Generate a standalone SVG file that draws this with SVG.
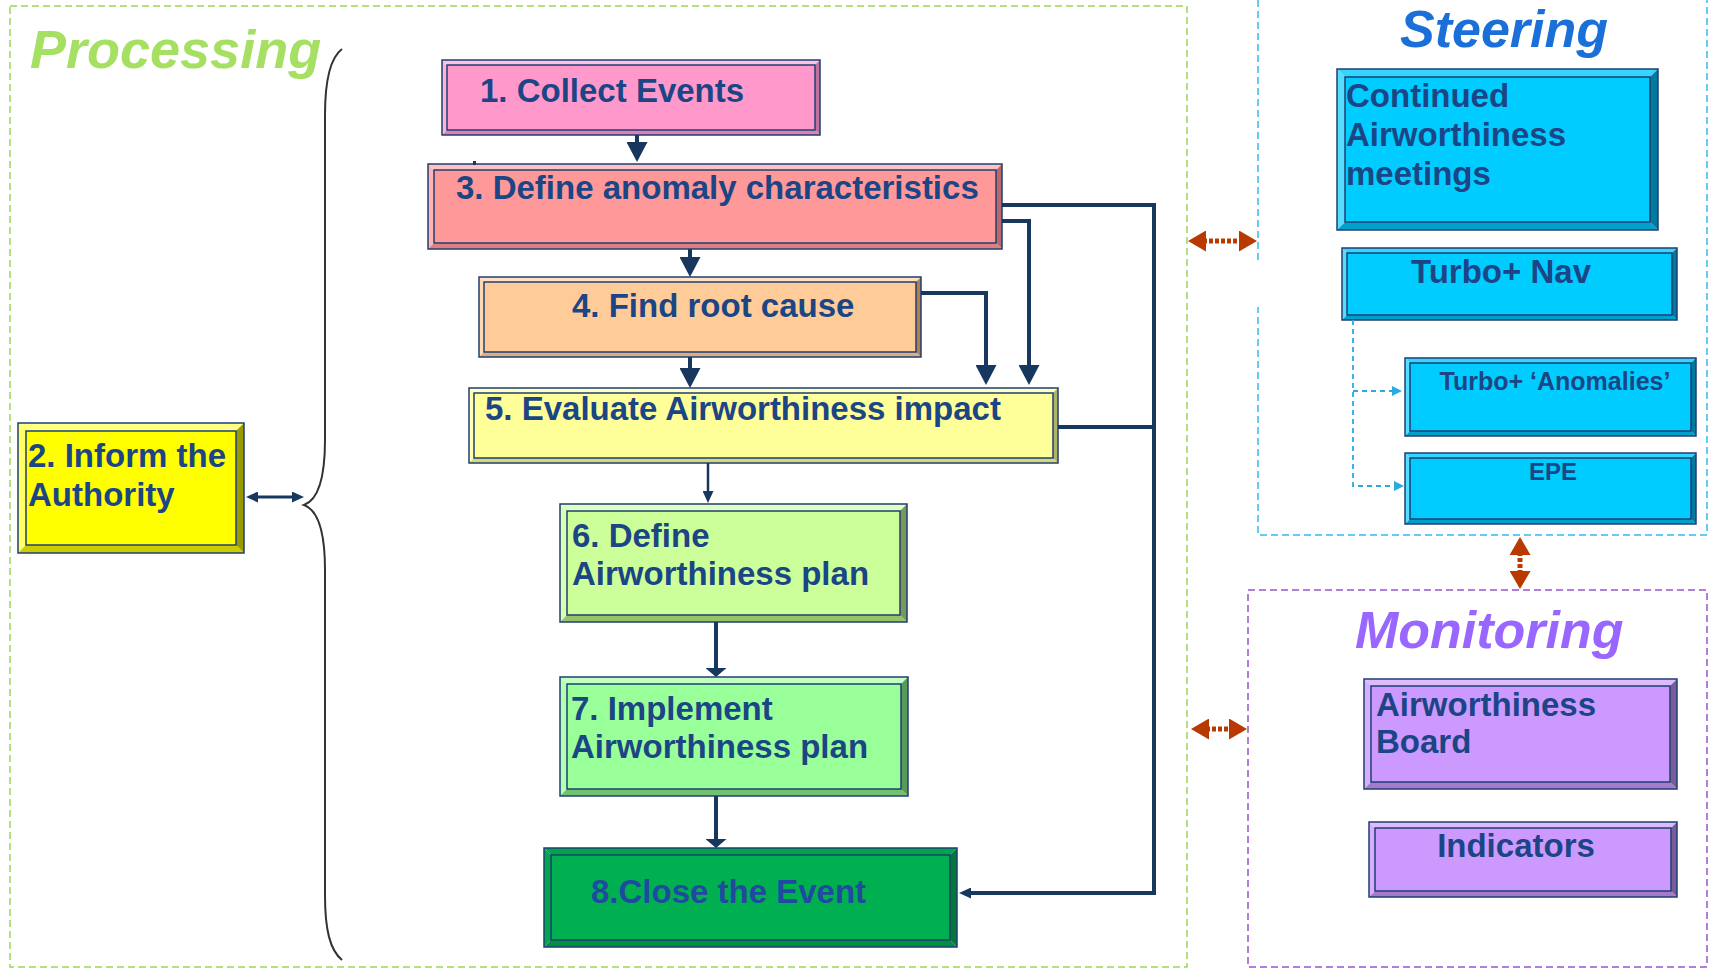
<svg xmlns="http://www.w3.org/2000/svg" width="1710" height="969" viewBox="0 0 1710 969">
<style>
.bd{fill:none;stroke:#1f3f73;stroke-width:1.5}
.in{stroke:#1f3f73;stroke-width:1.5}
.nt{font-family:"Liberation Sans",Arial,sans-serif;font-weight:bold;font-size:33px;fill:#1b4584}
.title{font-family:"Liberation Sans",Arial,sans-serif;font-weight:bold;font-style:italic}
.cn{fill:none;stroke:#17375e;stroke-width:4}
.or{fill:none;stroke:#b83a00;stroke-width:5;stroke-dasharray:4 2}
.bl{fill:none;stroke:#29abe2;stroke-width:1.8;stroke-dasharray:5 4}
</style>
<defs>
<marker id="aL" viewBox="0 0 20 21" markerWidth="20" markerHeight="21" refX="10" refY="10.5" orient="auto" markerUnits="userSpaceOnUse"><path d="M0,0 L20,10.5 L0,21 z" fill="#17375e"/></marker>
<marker id="aF" viewBox="0 0 9 21" markerWidth="9" markerHeight="21" refX="4" refY="10.5" orient="auto" markerUnits="userSpaceOnUse"><path d="M0,0 L9,10.5 L0,21 z" fill="#17375e"/></marker>
<marker id="aS" viewBox="0 0 12 11" markerWidth="12" markerHeight="11" refX="6" refY="5.5" orient="auto-start-reverse" markerUnits="userSpaceOnUse"><path d="M0,0 L12,5.5 L0,11 z" fill="#17375e"/></marker>
<marker id="aO" viewBox="0 0 18 21" markerWidth="18" markerHeight="21" refX="9" refY="10.5" orient="auto-start-reverse" markerUnits="userSpaceOnUse"><path d="M0,0 L18,10.5 L0,21 z" fill="#b83a00"/></marker>
<marker id="aB" viewBox="0 0 10 10" markerWidth="10" markerHeight="10" refX="5" refY="5" orient="auto" markerUnits="userSpaceOnUse"><path d="M0,0 L10,5 L0,10 z" fill="#29abe2"/></marker>
</defs>
<rect width="1710" height="969" fill="#ffffff"/>

<g id="groups">
<rect x="10" y="6" width="1177" height="961" fill="none" stroke="#99d65a" stroke-width="1.5" stroke-dasharray="7 4"/>
<path d="M1258,260 V-5 H1707 V535 H1258 V307" fill="none" stroke="#33bbee" stroke-width="1.5" stroke-dasharray="7 4"/>
<rect x="1248" y="590" width="459" height="377" fill="none" stroke="#9955cc" stroke-width="1.5" stroke-dasharray="7 4"/>
<text class="title" x="30" y="68" font-size="54" fill="#a6e063">Processing</text>
<text class="title" x="1400" y="47" font-size="52" fill="#1a6fd8">Steering</text>
<text class="title" x="1355" y="648" font-size="52" fill="#9966ff">Monitoring</text>
<path d="M342,49 C330,58 325,80 325,115 L325,440 C325,480 318,500 304,505 C318,510 325,530 325,570 L325,895 C325,930 330,950 342,960" fill="none" stroke="#333333" stroke-width="2"/>
</g>

<g id="n1">
<polygon points="442,60 820,60 815,65 447,65" fill="#ffc2e0"/>
<polygon points="442,60 447,65 447,130 442,135" fill="#ffb3d9"/>
<polygon points="442,135 447,130 815,130 820,135" fill="#dd80b5"/>
<polygon points="820,60 820,135 815,130 815,65" fill="#c2709e"/>
<rect class="in" x="447" y="65" width="368" height="65" fill="#ff99cc"/>
<rect class="bd" x="442" y="60" width="378" height="75"/>
<text class="nt" x="480" y="102">1. Collect Events</text>
</g>

<g id="n3">
<polygon points="428,164 1002,164 996,170 434,170" fill="#ffc2c2"/>
<polygon points="428,164 434,170 434,243 428,249" fill="#ffb3b3"/>
<polygon points="428,249 434,243 996,243 1002,249" fill="#dd8080"/>
<polygon points="1002,164 1002,249 996,243 996,170" fill="#b86a6a"/>
<rect class="in" x="434" y="170" width="562" height="73" fill="#ff9999"/>
<rect class="bd" x="428" y="164" width="574" height="85"/>
<text class="nt" x="456" y="199">3. Define anomaly characteristics</text>
</g>

<g id="n4">
<polygon points="479,277 921,277 916,282 484,282" fill="#ffe0c2"/>
<polygon points="479,277 484,282 484,352 479,357" fill="#ffd9b3"/>
<polygon points="479,357 484,352 916,352 921,357" fill="#dcae80"/>
<polygon points="921,277 921,357 916,352 916,282" fill="#b08050"/>
<rect class="in" x="484" y="282" width="432" height="70" fill="#ffcc99"/>
<rect class="bd" x="479" y="277" width="442" height="80"/>
<text class="nt" x="572" y="317">4. Find root cause</text>
</g>

<g id="n5">
<polygon points="469,388 1058,388 1053,393 474,393" fill="#ffffc2"/>
<polygon points="469,388 474,393 474,458 469,463" fill="#ffffb3"/>
<polygon points="469,463 474,458 1053,458 1058,463" fill="#d6d67a"/>
<polygon points="1058,388 1058,463 1053,458 1053,393" fill="#b3b366"/>
<rect class="in" x="474" y="393" width="579" height="65" fill="#ffff99"/>
<rect class="bd" x="469" y="388" width="589" height="75"/>
<text class="nt" x="485" y="420">5. Evaluate Airworthiness impact</text>
</g>

<g id="n6">
<polygon points="560,504 907,504 900,511 567,511" fill="#e0ffc2"/>
<polygon points="560,504 567,511 567,615 560,622" fill="#d9ffb3"/>
<polygon points="560,622 567,615 900,615 907,622" fill="#99c266"/>
<polygon points="907,504 907,622 900,615 900,511" fill="#77995a"/>
<rect class="in" x="567" y="511" width="333" height="104" fill="#ccff99"/>
<rect class="bd" x="560" y="504" width="347" height="118"/>
<text class="nt" x="572" y="547">6. Define</text>
<text class="nt" x="572" y="585">Airworthiness plan</text>
</g>

<g id="n7">
<polygon points="560,677 908,677 901,684 567,684" fill="#c2ffc2"/>
<polygon points="560,677 567,684 567,789 560,796" fill="#b3ffb3"/>
<polygon points="560,796 567,789 901,789 908,796" fill="#70c270"/>
<polygon points="908,677 908,796 901,789 901,684" fill="#5a995a"/>
<rect class="in" x="567" y="684" width="334" height="105" fill="#99ff99"/>
<rect class="bd" x="560" y="677" width="348" height="119"/>
<text class="nt" x="571" y="720">7. Implement</text>
<text class="nt" x="571" y="758">Airworthiness plan</text>
</g>

<g id="n8">
<polygon points="544,848 957,848 950,855 551,855" fill="#00a449"/>
<polygon points="544,848 551,855 551,940 544,947" fill="#00a84b"/>
<polygon points="544,947 551,940 950,940 957,947" fill="#009040"/>
<polygon points="957,848 957,947 950,940 950,855" fill="#007a36"/>
<rect class="in" x="551" y="855" width="399" height="85" fill="#00b050"/>
<rect class="bd" x="544" y="848" width="413" height="99"/>
<text class="nt" x="591" y="903" fill="#1f4aa0" style="fill:#1f4aa0">8.Close the Event</text>
</g>

<g id="n2">
<polygon points="18,423 244,423 236,431 26,431" fill="#ffff80"/>
<polygon points="18,423 26,431 26,545 18,553" fill="#ffff66"/>
<polygon points="18,553 26,545 236,545 244,553" fill="#cccc00"/>
<polygon points="244,423 244,553 236,545 236,431" fill="#999900"/>
<rect class="in" x="26" y="431" width="210" height="114" fill="#ffff00"/>
<rect class="bd" x="18" y="423" width="226" height="130"/>
<text class="nt" x="28" y="467">2. Inform the</text>
<text class="nt" x="28" y="506">Authority</text>
</g>

<g id="cam">
<polygon points="1337,69 1658,69 1650,77 1345,77" fill="#33d6ff"/>
<polygon points="1337,69 1345,77 1345,222 1337,230" fill="#55ddff"/>
<polygon points="1337,230 1345,222 1650,222 1658,230" fill="#00a0cc"/>
<polygon points="1658,69 1658,230 1650,222 1650,77" fill="#007a9e"/>
<rect class="in" x="1345" y="77" width="305" height="145" fill="#00ccff"/>
<rect class="bd" x="1337" y="69" width="321" height="161"/>
<text class="nt" x="1346" y="107">Continued</text>
<text class="nt" x="1346" y="146">Airworthiness</text>
<text class="nt" x="1346" y="185">meetings</text>
</g>

<g id="tnav">
<polygon points="1342,248 1677,248 1672,253 1347,253" fill="#33d6ff"/>
<polygon points="1342,248 1347,253 1347,315 1342,320" fill="#55ddff"/>
<polygon points="1342,320 1347,315 1672,315 1677,320" fill="#00a0cc"/>
<polygon points="1677,248 1677,320 1672,315 1672,253" fill="#007a9e"/>
<rect class="in" x="1347" y="253" width="325" height="62" fill="#00ccff"/>
<rect class="bd" x="1342" y="248" width="335" height="72"/>
<text class="nt" x="1501" y="283" text-anchor="middle">Turbo+ Nav</text>
</g>

<g id="anom">
<polygon points="1405,358 1696,358 1691,363 1410,363" fill="#33d6ff"/>
<polygon points="1405,358 1410,363 1410,431 1405,436" fill="#55ddff"/>
<polygon points="1405,436 1410,431 1691,431 1696,436" fill="#00a0cc"/>
<polygon points="1696,358 1696,436 1691,431 1691,363" fill="#007a9e"/>
<rect class="in" x="1410" y="363" width="281" height="68" fill="#00ccff"/>
<rect class="bd" x="1405" y="358" width="291" height="78"/>
<text class="nt" x="1555" y="390" text-anchor="middle" style="font-size:25px">Turbo+ ‘Anomalies’</text>
</g>

<g id="epe">
<polygon points="1405,453 1696,453 1691,458 1410,458" fill="#33d6ff"/>
<polygon points="1405,453 1410,458 1410,519 1405,524" fill="#55ddff"/>
<polygon points="1405,524 1410,519 1691,519 1696,524" fill="#00a0cc"/>
<polygon points="1696,453 1696,524 1691,519 1691,458" fill="#007a9e"/>
<rect class="in" x="1410" y="458" width="281" height="61" fill="#00ccff"/>
<rect class="bd" x="1405" y="453" width="291" height="71"/>
<text class="nt" x="1553" y="480" text-anchor="middle" style="font-size:24px">EPE</text>
</g>

<g id="awb">
<polygon points="1364,679 1677,679 1670,686 1371,686" fill="#ddbbff"/>
<polygon points="1364,679 1371,686 1371,782 1364,789" fill="#d6adff"/>
<polygon points="1364,789 1371,782 1670,782 1677,789" fill="#a37acc"/>
<polygon points="1677,679 1677,789 1670,782 1670,686" fill="#7a5c99"/>
<rect class="in" x="1371" y="686" width="299" height="96" fill="#cc99ff"/>
<rect class="bd" x="1364" y="679" width="313" height="110"/>
<text class="nt" x="1376" y="716">Airworthiness</text>
<text class="nt" x="1376" y="753">Board</text>
</g>

<g id="ind">
<polygon points="1369,822 1677,822 1671,828 1375,828" fill="#ddbbff"/>
<polygon points="1369,822 1375,828 1375,891 1369,897" fill="#d6adff"/>
<polygon points="1369,897 1375,891 1671,891 1677,897" fill="#a37acc"/>
<polygon points="1677,822 1677,897 1671,891 1671,828" fill="#7a5c99"/>
<rect class="in" x="1375" y="828" width="296" height="63" fill="#cc99ff"/>
<rect class="bd" x="1369" y="822" width="308" height="75"/>
<text class="nt" x="1516" y="857" text-anchor="middle">Indicators</text>
</g>

<g id="connectors">
<rect x="473" y="161" width="3" height="4" fill="#17375e"/>
<path class="cn" d="M637,135 V152" marker-end="url(#aL)"/>
<path class="cn" d="M690,249 V267" marker-end="url(#aL)"/>
<path class="cn" d="M690,357 V378" marker-end="url(#aL)"/>
<path class="cn" d="M1002,221 H1029 V375" marker-end="url(#aL)"/>
<path class="cn" d="M921,293 H986 V375" marker-end="url(#aL)"/>
<path class="cn" d="M1002,205 H1154 V893 H965" marker-end="url(#aS)"/>
<path class="cn" d="M1058,427 H1154"/>
<path class="cn" style="stroke-width:2.5" d="M708,463 V497" marker-end="url(#aS)"/>
<path class="cn" d="M716,622 V672" marker-end="url(#aF)"/>
<path class="cn" d="M716,796 V843" marker-end="url(#aF)"/>
<path class="cn" style="stroke-width:3" d="M252,497 H298" marker-start="url(#aS)" marker-end="url(#aS)"/>
<path class="or" d="M1197,241 H1248" marker-start="url(#aO)" marker-end="url(#aO)"/>
<path class="or" d="M1520,546 V580" marker-start="url(#aO)" marker-end="url(#aO)"/>
<path class="or" d="M1200,729 H1238" marker-start="url(#aO)" marker-end="url(#aO)"/>
<path class="bl" d="M1353,320 V486 H1399" marker-end="url(#aB)"/>
<path class="bl" d="M1353,391 H1397" marker-end="url(#aB)"/>
</g>
</svg>
